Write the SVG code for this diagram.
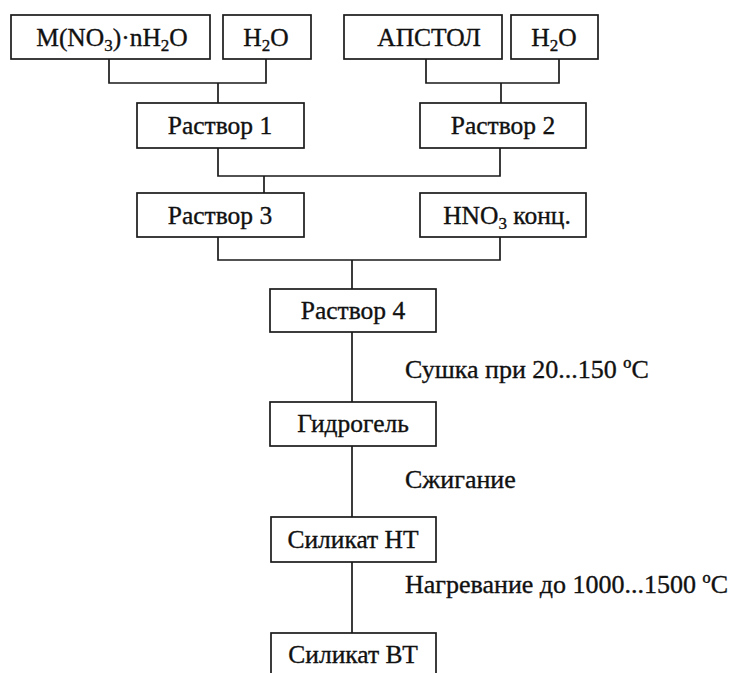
<svg xmlns="http://www.w3.org/2000/svg" width="730" height="673" viewBox="0 0 730 673">
<style>
.b{fill:#fff;stroke:#1a1a1a;stroke-width:1.7}
.t,.l{font-family:"Liberation Serif","Times New Roman",serif;font-size:25.5px;fill:#111;stroke:#111;stroke-width:0.35}
.t{text-anchor:middle}
.l{font-size:26px}
.s{font-size:17px}
#connectors path{fill:none;stroke:#1a1a1a;stroke-width:1.7}
</style>
<rect width="730" height="673" fill="#fff"/>
<g id="connectors">
<path d="M109 59V83H266V59M218 83V103"/>
<path d="M426 59V83H559V59M501 83V103"/>
<path d="M218 148V176H500V148M264 176V193"/>
<path d="M218 237V260H500V237M352 260V289"/>
<path d="M352 332V402M352 446V517M352 562V633"/>
</g>
<g id="n1"><rect class="b" x="11" y="15" width="199" height="44"/><text class="t" x="112" y="46">M(NO<tspan class="s" dy="5">3</tspan><tspan dy="-5">)·nH</tspan><tspan class="s" dy="5">2</tspan><tspan dy="-5">O</tspan></text></g>
<g id="n2"><rect class="b" x="223" y="15" width="88" height="44"/><text class="t" x="266" y="46">H<tspan class="s" dy="5">2</tspan><tspan dy="-5">O</tspan></text></g>
<g id="n3"><rect class="b" x="344" y="15" width="158" height="44"/><text class="t" x="429" y="46">АПСТОЛ</text></g>
<g id="n4"><rect class="b" x="511" y="15" width="87" height="44"/><text class="t" x="554" y="46">H<tspan class="s" dy="5">2</tspan><tspan dy="-5">O</tspan></text></g>
<g id="n5"><rect class="b" x="137" y="103" width="167" height="45"/><text class="t" x="220" y="134">Раствор 1</text></g>
<g id="n6"><rect class="b" x="420" y="103" width="166" height="45"/><text class="t" x="503" y="134">Раствор 2</text></g>
<g id="n7"><rect class="b" x="137" y="193" width="167" height="44"/><text class="t" x="220" y="224">Раствор 3</text></g>
<g id="n8"><rect class="b" x="420" y="193" width="166" height="44"/><text class="t" x="507" y="224">HNO<tspan class="s" dy="5">3</tspan><tspan dy="-5"> конц.</tspan></text></g>
<g id="n9"><rect class="b" x="270" y="289" width="166" height="43"/><text class="t" x="353" y="319">Раствор 4</text></g>
<g id="n10"><rect class="b" x="270" y="402" width="166" height="44"/><text class="t" x="353" y="432">Гидрогель</text></g>
<g id="n11"><rect class="b" x="271" y="517" width="165" height="45"/><text class="t" x="353" y="548">Силикат НТ</text></g>
<g id="n12"><rect class="b" x="271" y="633" width="165" height="60"/><text class="t" x="353" y="663">Силикат ВТ</text></g>
<g id="labels">
<text class="l" x="405" y="378">Сушка при 20...150 ºС</text>
<text class="l" x="405" y="488">Сжигание</text>
<text class="l" x="405" y="593">Нагревание до 1000...1500 ºС</text>
</g>
</svg>
